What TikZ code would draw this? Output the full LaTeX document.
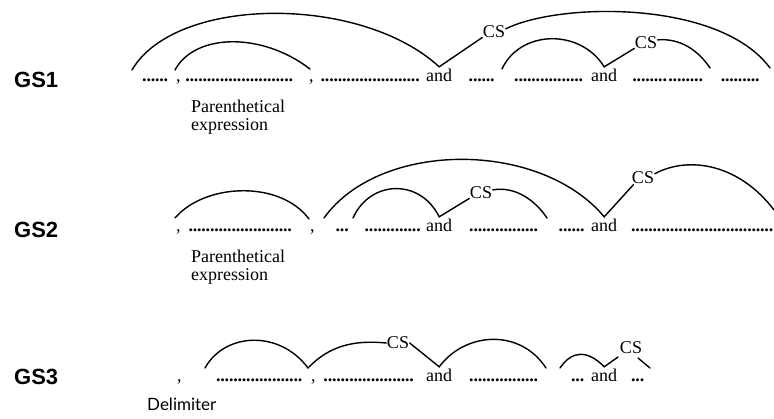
\documentclass[tikz,border=0pt]{standalone}
\usepackage{fontspec}
\setmainfont{Liberation Serif}
\newfontfamily\gsfont{Liberation Sans}
\newfontfamily\delimfont{Lato}
\newcommand\dotrun[1]{\hbox to #1pt{\bfseries\cleaders\hbox to 4.3pt{\hss.\hss}\hfill}}
\begin{document}
\begin{tikzpicture}[x=1pt,y=-1pt,
  txt/.style={anchor=base west,inner sep=0pt,font=\fontsize{18}{19}\selectfont},
  andn/.style={anchor=base west,inner xsep=0pt,inner ysep=1.5pt,font=\fontsize{18}{19}\selectfont},
  gs/.style={anchor=west,inner sep=0pt,font=\gsfont\bfseries\fontsize{22}{24}\selectfont},
  cs/.style={inner sep=0.5pt,font=\fontsize{18}{19}\selectfont},
  arc/.style={line width=1.4pt,line cap=round},
  note/.style={anchor=north west,inner sep=0pt,align=left,font=\fontsize{18}{18}\selectfont}]
\useasboundingbox (0,0) rectangle (774,418);

% ---------- GS1 ----------
\node[gs] (gs1) at (14,80) {GS1};
\node[txt] (r1d1) at (142,81) {\dotrun{26}};
\node[txt] (r1c1) at (176,81) {,};
\node[txt] (r1d2) at (185,81) {\dotrun{108}};
\node[txt] (r1c2) at (309,81) {,};
\node[txt] (r1d3) at (320,81) {\dotrun{100}};
\node[andn] (r1a1) at (426,81) {and};
\node[txt] (r1d4) at (467,81) {\dotrun{29}};
\node[txt] (r1d5) at (512,81) {\dotrun{73}};
\node[andn] (r1a2) at (591,81) {and};
\node[txt] (r1d6) at (632,81) {\dotrun{35}};
\node[txt] (r1d6b) at (668,81) {\dotrun{35}};
\node[txt] (r1d7) at (720,81) {\dotrun{40}};
\node[note] (r1p) at (191,100) {Parenthetical\\expression};
\node[cs] (r1cs1) at (494,32) {CS};
\node[cs] (r1cs2) at (646,43) {CS};
\coordinate (r1s1) at (132,70);
\coordinate (r1e1) at (770,68);
\coordinate (r1s2) at (175,70);
\coordinate (r1e2) at (310,69);
\coordinate (r1s3) at (502,69);
\coordinate (r1e3) at (710,68);
\draw[arc] (r1s1) .. controls (175,-4) and (360,-6) .. (r1a1.north) -- (r1cs1.205);
\draw[arc] (r1cs1.15) .. controls (560,2) and (720,0) .. (r1e1);
\draw[arc] (r1s2) .. controls (195,33) and (262,32) .. (r1e2);
\draw[arc] (r1s3) .. controls (520,30) and (580,28) .. (r1a2.north) -- (r1cs2.205);
\draw[arc] (r1cs2.15) .. controls (680,38) and (698,50) .. (r1e3);

% ---------- GS2 ----------
\node[gs] (gs2) at (14,230) {GS2};
\node[txt] (r2c1) at (176,231) {,};
\node[txt] (r2d1) at (187,231) {\dotrun{106}};
\node[txt] (r2c2) at (310,231) {,};
\node[txt] (r2d2) at (335,231) {\dotrun{14}};
\node[txt] (r2d3) at (363,231) {\dotrun{59}};
\node[andn] (r2a1) at (426,231) {and};
\node[txt] (r2d4) at (467,231) {\dotrun{73}};
\node[txt] (r2d5) at (557,231) {\dotrun{29}};
\node[andn] (r2a2) at (591,231) {and};
\node[txt] (r2d6) at (630,231) {\dotrun{144}};
\node[note] (r2p) at (191,250) {Parenthetical\\expression};
\node[cs] (r2cs1) at (481,193) {CS};
\node[cs] (r2cs2) at (643,178) {CS};
\coordinate (r2s1) at (175,218);
\coordinate (r2e1) at (309,219);
\coordinate (r2s2) at (324,218);
\coordinate (r2s3) at (353,218);
\coordinate (r2e3) at (547,218);
\coordinate (r2e4) at (774,210);
\draw[arc] (r2s1) .. controls (205,183) and (280,180) .. (r2e1);
\draw[arc] (r2s2) .. controls (380,140) and (540,140) .. (r2a2.north) -- (r2cs2.215);
\draw[arc] (r2cs2.20) .. controls (690,155) and (740,165) .. (r2e4);
\draw[arc] (r2s3) .. controls (370,180) and (420,178) .. (r2a1.north) -- (r2cs1.205);
\draw[arc] (r2cs1.15) .. controls (515,186) and (535,200) .. (r2e3);

% ---------- GS3 ----------
\node[gs] (gs3) at (14,377) {GS3};
\node[txt] (r3c1) at (177,381) {,};
\node[txt] (r3d1) at (215,381) {\dotrun{88}};
\node[txt] (r3c2) at (311,381) {,};
\node[txt] (r3d2) at (322,381) {\dotrun{93}};
\node[andn] (r3a1) at (426,381) {and};
\node[txt] (r3d3) at (467,381) {\dotrun{73}};
\node[txt] (r3d4) at (570,381) {\dotrun{15}};
\node[andn] (r3a2) at (591,381) {and};
\node[txt] (r3d5) at (630,381) {\dotrun{15}};
\node[anchor=base west,inner sep=0pt,font=\delimfont\fontsize{17}{18}\selectfont] (delim) at (147,410) {Delimiter};
\node[cs] (r3cs1) at (398,343) {CS};
\node[cs] (r3cs2) at (631,348) {CS};
\coordinate (r3s1) at (205,368);
\coordinate (r3v1) at (308,368);
\coordinate (r3e1) at (546,368);
\coordinate (r3s2) at (560,368);
\coordinate (r3t1) at (618,357);
\coordinate (r3t2) at (638,358);
\coordinate (r3t3) at (650,368);
\draw[arc] (r3s1) .. controls (225,332) and (280,330) .. (r3v1) .. controls (330,345) and (355,340) .. (r3cs1.west);
\draw[arc] (r3cs1.east) -- (r3a1.north) .. controls (465,332) and (520,328) .. (r3e1);
\draw[arc] (r3s2) .. controls (572,350) and (588,350) .. (r3a2.north) -- (r3t1);
\draw[arc] (r3t2) -- (r3t3);
\end{tikzpicture}
\end{document}
